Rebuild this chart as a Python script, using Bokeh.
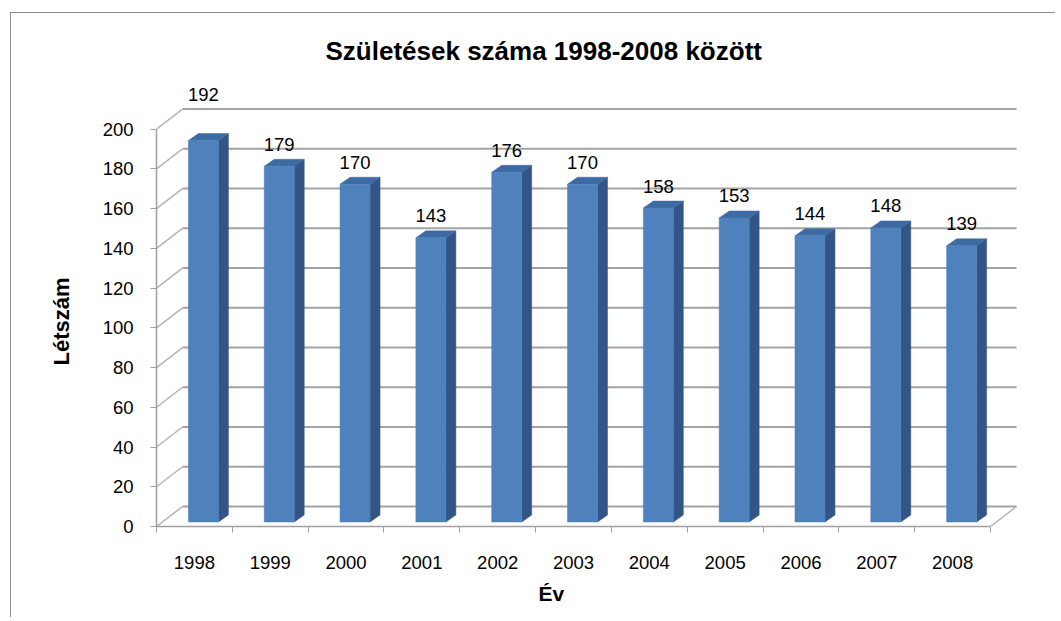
import numpy as np
from bokeh.plotting import figure
from bokeh.models import Range1d, FixedTicker, Title
from bokeh.embed import file_html
from bokeh.resources import INLINE
from bokeh.core.properties import value

# ---------------- data ----------------
years = ["1998", "1999", "2000", "2001", "2002", "2003", "2004", "2005", "2006", "2007", "2008"]
births = [192, 179, 170, 143, 176, 170, 158, 153, 144, 148, 139]
y_ticks = [0, 20, 40, 60, 80, 100, 120, 140, 160, 180, 200]

title_text = "Születések száma 1998-2008 között"
x_title = "Év"
y_title = "Létszám"

# ---------------- layout / style ----------------
FONT = "Liberation Sans"
W, H = 1045, 605
OFFX, OFFY = 11, 13          # canvas origin on the page (margin + border)
PX_X = 75.82                 # pixels per category
PX_Y = 1.987                 # pixels per unit
FRAME_L, FRAME_R, FRAME_T, FRAME_B = 156, 1017, 80, 526   # page positions
B_LEFT = FRAME_L - OFFX
B_TOP = FRAME_T - OFFY
B_RIGHT = W - (FRAME_R - OFFX)
B_BOTTOM = H - (FRAME_B - OFFY)
FW = W - B_LEFT - B_RIGHT
FH = H - B_TOP - B_BOTTOM

n = len(years)
xs = np.arange(1, n + 1)
lo, hi = 0.5, n + 0.5
bounds_x = np.arange(0.5, n + 1.0, 1.0)

# 3D depth of the box (back wall offset)
DX = 26 / PX_X
DY = 20 / PX_Y
# bar geometry
BW = 30 / PX_X
OX = 9 / PX_X
OY = 4.5 / PX_Y
SDX = 10 / PX_X
SDY = 7 / PX_Y

GRID = "#a3a3a3"
FRONT = "#4f81bd"
SIDE = "#325585"
TOPC = "#3d6aa3"

p = figure(width=W, height=H,
           x_range=Range1d(lo, lo + FW / PX_X),
           y_range=Range1d(0, FH / PX_Y),
           output_backend="svg", toolbar_location=None,
           min_border_left=B_LEFT, min_border_right=B_RIGHT,
           min_border_top=B_TOP, min_border_bottom=B_BOTTOM,
           background_fill_color="white", border_fill_color="white")
p.outline_line_color = None
p.xgrid.visible = False
p.ygrid.visible = False

# outer chart-area border (top + left edges of the chart box)
p.margin = (12, 0, 0, 10)
p.styles = {"border-left": "1px solid #8c8c8c", "border-top": "1px solid #8c8c8c"}

# back wall gridlines
yt = np.array(y_ticks, dtype=float)
p.segment(x0=np.full(len(yt), lo + DX), y0=yt + DY,
          x1=np.full(len(yt), hi + DX), y1=yt + DY,
          line_color=GRID, line_width=2)
# side wall diagonals
p.segment(x0=np.full(len(yt), lo), y0=yt, x1=np.full(len(yt), lo + DX), y1=yt + DY,
          line_color="#b5b5b5", line_width=1.5)
# floor right edge
p.segment(x0=[hi], y0=[0], x1=[hi + DX], y1=[DY], line_color="#b5b5b5", line_width=1.5)

# bars
v = np.array(births, dtype=float)
bx0 = xs - BW / 2 + OX
bx1 = xs + BW / 2 + OX
by0 = np.full(n, OY)
by1 = v + OY

side_x = [[a, a + SDX, a + SDX, a] for a in bx1]
side_y = [[b0, b0 + SDY, b1 + SDY, b1] for b0, b1 in zip(by0, by1)]
top_x = [[a0, a1, a1 + SDX, a0 + SDX] for a0, a1 in zip(bx0, bx1)]
top_y = [[b, b, b + SDY, b + SDY] for b in by1]

p.patches(side_x, side_y, fill_color=SIDE, line_color=SIDE, line_width=0.5)
p.patches(top_x, top_y, fill_color=TOPC, line_color=TOPC, line_width=0.5)
p.quad(left=bx0, right=bx1, bottom=by0, top=by1, fill_color=FRONT, line_color=FRONT, line_width=0.5)

# data labels
wall_top = max(y_ticks) + DY
lab_y = by1 + 22 / PX_Y
lab_y = np.where(lab_y > max(y_ticks), wall_top + 7.2, lab_y)
p.text(x=(bx0 + bx1) / 2, y=lab_y, text=[str(b) for b in births],
       text_align="center", text_baseline="middle",
       text_font=value(FONT), text_font_size="18.5px", text_color="black")

# y axis (front)
ya = p.yaxis[0]
ya.ticker = FixedTicker(ticks=y_ticks)
ya.bounds = (0, max(y_ticks))
ya.axis_line_color = "#a0a0a0"
ya.axis_line_width = 1.5
ya.major_tick_line_color = "#a0a0a0"
ya.major_tick_out = 6
ya.major_tick_in = 0
ya.minor_tick_line_color = None
ya.major_label_standoff = 17
ya.major_label_text_font = FONT
ya.major_label_text_font_size = "18.5px"
ya.major_label_text_color = "black"

# x axis (front floor edge)
xa = p.xaxis[0]
xa.ticker = FixedTicker(ticks=list(xs), minor_ticks=list(bounds_x))
xa.major_label_overrides = {int(i): y for i, y in zip(xs, years)}
xa.bounds = (lo, hi)
xa.axis_line_color = "#a0a0a0"
xa.axis_line_width = 1.5
xa.major_tick_out = 0
xa.major_tick_in = 0
xa.minor_tick_out = 6
xa.minor_tick_in = 0
xa.minor_tick_line_color = "#a0a0a0"
xa.major_label_standoff = 23
xa.major_label_text_font = FONT
xa.major_label_text_font_size = "18.5px"
xa.major_label_text_color = "black"

# titles
p.title.text = title_text
p.title.align = "left"
p.title.offset = 169
p.title.standoff = 29
p.title.text_font = FONT
p.title.text_font_size = "26px"
p.title.text_font_style = "bold"
p.title.text_color = "black"

p.add_layout(Title(text=y_title, align="left", offset=161, standoff=52,
                   text_font=FONT, text_font_size="22px", text_font_style="bold",
                   text_color="black"), "left")
p.add_layout(Title(text=x_title, align="left", offset=382, standoff=20,
                   vertical_align="top",
                   text_font=FONT, text_font_size="21px", text_font_style="bold",
                   text_color="black"), "below")

open("out.html", "w").write(file_html(p, INLINE))
